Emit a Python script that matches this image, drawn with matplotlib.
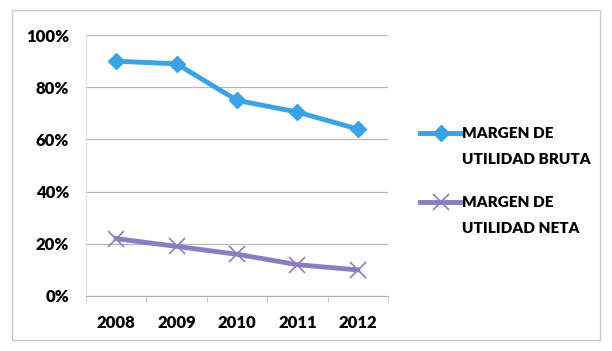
import matplotlib.pyplot as plt
from matplotlib.patches import Rectangle

years = ['2008', '2009', '2010', '2011', '2012']
bruta = [90, 89, 75, 70.5, 64]
neta = [22, 19, 16, 12, 10]
yticks = [0, 20, 40, 60, 80, 100]

plt.rcParams['font.family'] = ['Lato', 'DejaVu Sans']

fig = plt.figure(figsize=(6.12, 3.51), dpi=100)
fig.patches.append(Rectangle((12 / 612, 11 / 351), 588 / 612, 330 / 351,
                             transform=fig.transFigure, fill=False,
                             edgecolor='#c8c8c8', linewidth=1))
ax = fig.add_axes([0.1405, 0.1567, 0.4935, 0.7433])

x = list(range(len(years)))
ax.plot(x, bruta, color='#3aa3e6', linewidth=3.5, marker='D', markersize=8,
        label='MARGEN DE\nUTILIDAD BRUTA', zorder=3)
ax.plot(x, neta, color='#8c7dc2', linewidth=3.5, marker='x', markersize=12,
        markeredgewidth=1.2, label='MARGEN DE\nUTILIDAD NETA', zorder=3)

ax.set_xlim(-0.5, len(years) - 0.5)
ax.set_ylim(0, 100)
ax.set_yticks(yticks)
ax.set_yticklabels([f'{v}%' for v in yticks], fontsize=12, fontweight='heavy')
ax.set_xticks(x)
ax.set_xticklabels(years, fontsize=12, fontweight='heavy')
ax.set_xticks([i - 0.5 for i in range(len(years) + 1)], minor=True)
ax.tick_params(axis='x', which='major', length=0, pad=14)
ax.tick_params(axis='x', which='minor', length=4, color='#c0c0c0')
ax.tick_params(axis='y', length=0, pad=12)
ax.grid(axis='y', color='#b8b8b8', linewidth=0.9)
for side in ['top', 'right']:
    ax.spines[side].set_visible(False)
ax.spines['left'].set_color('#e0e0e0')
ax.spines['bottom'].set_color('#b0b0b0')

leg = ax.legend(loc='center left', bbox_to_anchor=(1.06, 0.44), frameon=False,
                prop={'size': 11, 'weight': 'heavy'}, handlelength=2.7,
                handletextpad=0.05, labelspacing=2.0)
for t in leg.get_texts():
    t.set_linespacing(2.15)
# handle beside the first line of each label
for col in leg._legend_handle_box.get_children():
    for row in col.get_children():
        row.align = 'top'

fig.savefig('out.png', dpi=100)
